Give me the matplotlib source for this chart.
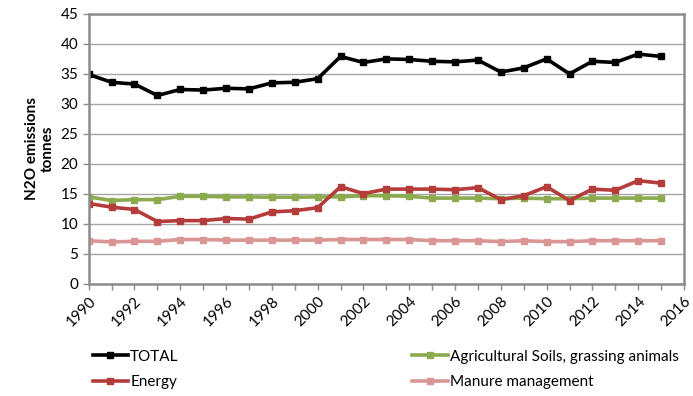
import numpy as np
import matplotlib.pyplot as plt
from matplotlib.ticker import MultipleLocator

plt.rcParams['font.family'] = ['Lato', 'DejaVu Sans']

years = np.arange(1990, 2016)
total = [34.9, 33.6, 33.3, 31.4, 32.4, 32.3, 32.6, 32.5, 33.5, 33.6, 34.2, 37.9, 36.9,
         37.5, 37.4, 37.1, 37.0, 37.3, 35.3, 36.0, 37.5, 35.0, 37.1, 36.9, 38.3, 37.9]
agri = [14.5, 13.9, 14.05, 14.05, 14.6, 14.6, 14.5, 14.5, 14.45, 14.45, 14.5, 14.5, 14.7,
        14.7, 14.6, 14.3, 14.3, 14.3, 14.2, 14.3, 14.2, 14.2, 14.3, 14.3, 14.3, 14.3]
energy = [13.4, 12.8, 12.4, 10.4, 10.55, 10.55, 10.9, 10.8, 12.0, 12.2, 12.7, 16.2, 15.05,
          15.8, 15.8, 15.8, 15.7, 16.05, 14.05, 14.7, 16.2, 13.9, 15.8, 15.6, 17.2, 16.8]
manure = [7.2, 7.0, 7.1, 7.1, 7.4, 7.4, 7.3, 7.3, 7.3, 7.3, 7.3, 7.4, 7.4,
          7.4, 7.4, 7.2, 7.2, 7.2, 7.05, 7.2, 7.05, 7.05, 7.2, 7.2, 7.2, 7.2]

fig = plt.figure(figsize=(6.93, 3.96), dpi=100)
ax = fig.add_axes([0.128, 0.283, 0.859, 0.682])

kw = dict(lw=2.6, marker='s', ms=4.5)
l1, = ax.plot(years, total, color='black', label='TOTAL', **kw)
l3, = ax.plot(years, manure, color='#D99694', label='Manure management', **kw)
l2, = ax.plot(years, agri, color='#8CAA4E', label='Agricultural Soils, grassing animals', **kw)
l4, = ax.plot(years, energy, color='#B43C3A', label='Energy', **kw)

ax.set_xlim(1990, 2016)
ax.set_ylim(0, 45)
ax.xaxis.set_major_locator(MultipleLocator(2))
ax.xaxis.set_minor_locator(MultipleLocator(1))
ax.yaxis.set_major_locator(MultipleLocator(5))
ax.grid(axis='y', color='#A6A6A6', lw=1)
ax.set_axisbelow(True)
for s in ax.spines.values():
    s.set_color('#8C8C8C')
    s.set_linewidth(1.8)
ax.tick_params(axis='both', which='both', color='#8C8C8C', width=1, length=4, labelsize=11)
ax.tick_params(axis='x', rotation=45)
for lab in ax.get_xticklabels():
    lab.set_ha('right')
    lab.set_rotation_mode('anchor')

ax.set_ylabel('N2O emissions\ntonnes', fontsize=11, fontweight='bold', labelpad=4)

fig.legend(handles=[l1, l4, l2, l3], ncol=2, loc='upper left', bbox_to_anchor=(0.125, 0.132),
           frameon=False, fontsize=11, handlelength=2.3, handletextpad=0.15,
           columnspacing=15.3, labelspacing=0.75, borderaxespad=0)

fig.savefig('out.png', dpi=100)
